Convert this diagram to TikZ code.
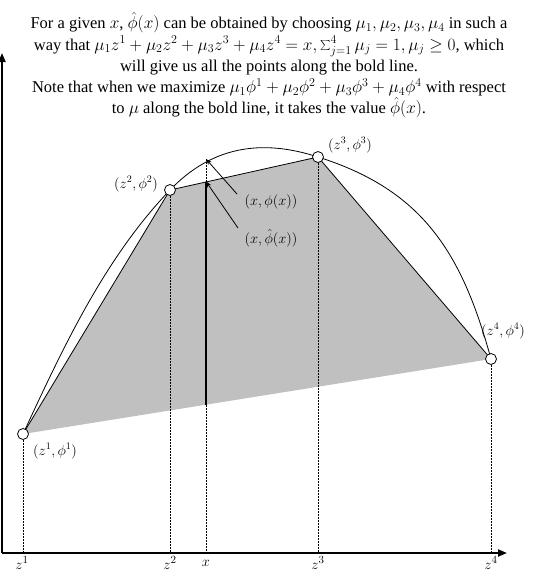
\documentclass[tikz,border=0pt]{standalone}
\usepackage{fontspec}
\setmainfont{Liberation Serif}
\usetikzlibrary{arrows.meta}
\definecolor{hullgray}{HTML}{C0C0C0}
\begin{document}
\begin{tikzpicture}[x=1pt,y=-1pt,
  ptc/.style={circle,draw,fill=white,inner sep=0pt,minimum size=11pt,line width=0.8pt},
  lbl/.style={font=\fontsize{14}{16}\selectfont,inner sep=0pt},
  axl/.style={font=\fontsize{15}{17}\selectfont,inner sep=0pt},
  ttl/.style={font=\fontsize{16.5}{21.3}\selectfont,inner sep=0pt,align=center,anchor=north},
  guide/.style={line width=0.6pt,dash pattern=on 1.5pt off 1.5pt},
  edge/.style={line width=0.8pt},
  axis/.style={line width=2pt,-{Triangle[length=9pt,width=7pt]}},
  ptr/.style={line width=0.8pt,-{Stealth[length=6pt,width=4.5pt]}}]
\useasboundingbox (0,0) rectangle (538,571);
% title
\node[ttl] (title) at (269,12) {For a given $x$, $\hat{\phi}(x)$ can be obtained by choosing $\mu_1,\mu_2,\mu_3,\mu_4$ in such a\\
way that $\mu_1z^1+\mu_2z^2+\mu_3z^3+\mu_4z^4=x,\sum_{j=1}^4\mu_j=1,\mu_j\geq 0$, which\\
will give us all the points along the bold line.\\
Note that when we maximize $\mu_1\phi^1+\mu_2\phi^2+\mu_3\phi^3+\mu_4\phi^4$ with respect\\
to $\mu$ along the bold line, it takes the value $\hat{\phi}(x)$.};
% key coordinates
\coordinate (O) at (2,553);
\coordinate (c1) at (23,434);
\coordinate (c2) at (170,190);
\coordinate (c3) at (318,157);
\coordinate (c4) at (491,359);
\coordinate (cx) at (206,159);
\coordinate (cxh) at (206,181.5);
\coordinate (cxb) at (206,405);
\coordinate (ytop) at (2,53);
\coordinate (xend) at (507,553);
% hull
\fill[hullgray] (c1) -- (c2) -- (c3) -- (c4) -- cycle;
\draw[edge] (c1) -- (c2) -- (c3) -- (c4);
% curve
\draw[edge] (c1) .. controls (63,348) and (104,259) .. (c2)
  .. controls (211.5,146.7) and (261,138.4) .. (c3)
  .. controls (423,190) and (462,253) .. (c4);
% guides
\draw[guide] (c1) -- (c1 |- O);
\draw[guide] (c2) -- (c2 |- O);
\draw[guide] (cx) -- (cx |- O);
\draw[guide] (c3) -- (c3 |- O);
\draw[guide] (c4) -- (c4 |- O);
% bold line
\draw[line width=2.6pt] (cxb) -- (cxh);
% axes
\draw[axis] (O) -- (ytop);
\draw[axis] (O) -- (xend);
% points
\node[ptc] (p1) at (c1) {};
\node[ptc] (p2) at (c2) {};
\node[ptc] (p3) at (c3) {};
\node[ptc] (p4) at (c4) {};
% labels
\node[lbl] (l1) at (55,451) {$(z^1,\phi^1)$};
\node[lbl] (l2) at (136,184) {$(z^2,\phi^2)$};
\node[lbl] (l3) at (350,145) {$(z^3,\phi^3)$};
\node[lbl] (l4) at (503,331) {$(z^4,\phi^4)$};
\node[lbl] (lx) at (271,202) {$(x,\phi(x))$};
\node[lbl] (lxh) at (271,238) {$(x,\hat{\phi}(x))$};
\coordinate (a1) at (237,194);
\coordinate (a2) at (238,228);
\draw[ptr] (a1) -- (cx);
\draw[ptr] (a2) -- (cxh);
% axis labels
\node[axl] (z1) at (22,563) {$z^1$};
\node[axl] (z2) at (170,563) {$z^2$};
\node[axl] (zx) at (206,563) {$x$};
\node[axl] (z3) at (318,563) {$z^3$};
\node[axl] (z4) at (491,563) {$z^4$};
\end{tikzpicture}
\end{document}
